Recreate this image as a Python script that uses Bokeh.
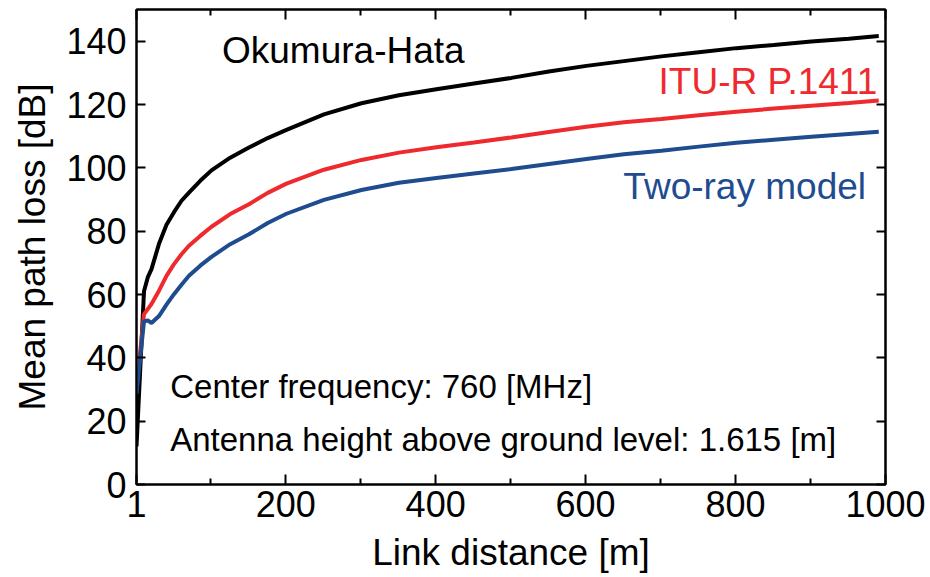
from bokeh.plotting import figure
from bokeh.models import Range1d, FixedTicker, LinearAxis, Label
from bokeh.embed import file_html
from bokeh.resources import INLINE

# ---- data ----
dist = [1, 11, 16, 21, 31, 41, 51, 61, 71, 86, 101, 126, 151, 176, 201, 251, 301, 351, 401,
        451, 501, 551, 601, 651, 701, 751, 801, 851, 901, 951, 991]
hata = [12, 61, 65.4, 68, 76, 82, 86, 89.6, 92.2, 95.9, 99.2, 103.2, 106.4, 109.4, 112, 116.9, 120.4, 122.9, 124.8,
        126.6, 128.4, 130.4, 132.2, 133.7, 135.2, 136.5, 137.8, 138.8, 139.9, 140.8, 141.6]
itu = [30.5, 53.8, 55.4, 57, 61.2, 65.9, 69.6, 72.7, 75.4, 78.5, 81.4, 85.4, 88.5, 92.1, 95, 99.4, 102.5, 104.8, 106.5,
       108.0, 109.6, 111.3, 113.0, 114.4, 115.4, 116.6, 117.7, 118.7, 119.6, 120.5, 121.3]
tworay = [28.6, 51.5, 51.8, 51.0, 53.2, 56.8, 60.1, 63.1, 65.9, 69.1, 71.9, 75.9, 79, 82.6, 85.5, 89.9, 93.0, 95.3, 96.8,
          98.2, 99.6, 101.2, 102.8, 104.3, 105.4, 106.7, 107.9, 108.9, 109.8, 110.7, 111.4]

x_major = [1, 200, 400, 600, 800, 1000]
x_minor = [100, 300, 500, 700, 900]
y_major = [0, 20, 40, 60, 80, 100, 120, 140]

FONT = "Liberation Sans"
BLACK = "#000000"
RED = "#EE2A2E"
BLUE = "#1F4C8F"

p = figure(width=930, height=577, x_range=Range1d(1, 1000), y_range=Range1d(0, 150),
           output_backend="svg", toolbar_location=None,
           min_border_left=136, min_border_right=45, min_border_top=9, min_border_bottom=93)
p.grid.visible = False
p.outline_line_color = "black"
p.outline_line_width = 2
p.background_fill_color = "white"
p.border_fill_color = "white"


def style(ax, labels=True):
    ax.axis_line_width = 2
    ax.major_tick_line_width = 2
    ax.minor_tick_line_width = 2
    ax.major_tick_in = 10
    ax.major_tick_out = 0
    ax.minor_tick_in = 6
    ax.minor_tick_out = 0
    ax.major_label_text_font = FONT
    ax.axis_label_text_font = FONT
    ax.axis_label_text_font_style = "normal"
    ax.axis_label_text_color = "black"
    if labels:
        ax.major_label_text_color = "black"
        ax.major_label_text_font_size = "36px"
        ax.axis_label_text_font_size = "37px"
    else:
        ax.major_label_text_color = None
        ax.major_label_text_font_size = "0px"
        ax.major_label_standoff = 0


xa = p.xaxis[0]
xa.ticker = FixedTicker(ticks=x_major, minor_ticks=x_minor)
style(xa)
xa.axis_label = "Link distance [m]"
xa.major_label_standoff = 6
xa.axis_label_standoff = 12

ya = p.yaxis[0]
ya.ticker = FixedTicker(ticks=y_major, minor_ticks=[])
style(ya)
ya.axis_label = "Mean path loss [dB]"
ya.major_label_standoff = 10
ya.axis_label_standoff = 10
ya.major_tick_in = 9

top = LinearAxis(ticker=FixedTicker(ticks=x_major, minor_ticks=x_minor))
style(top, labels=False)
p.add_layout(top, "above")

right = LinearAxis(ticker=FixedTicker(ticks=y_major, minor_ticks=[]))
style(right, labels=False)
right.major_tick_in = 9
p.add_layout(right, "right")

p.line(dist, hata, line_color=BLACK, line_width=4)
p.line(dist, itu, line_color=RED, line_width=4)
p.line(dist, tworay, line_color=BLUE, line_width=4)

labels = [
    ("Okumura-Hata", 115, 136.9, "left", BLACK, "37px"),
    ("ITU-R P.1411", 989, 127.3, "right", RED, "37px"),
    ("Two-ray model", 974, 94.2, "right", BLUE, "37px"),
    ("Center frequency: 760 [MHz]", 46, 31.0, "left", BLACK, "33px"),
    ("Antenna height above ground level: 1.615 [m]", 46, 14.1, "left", BLACK, "33px"),
]
for t, x, y, al, c, fs in labels:
    p.add_layout(Label(x=x, y=y, text=t, text_align=al, text_baseline="alphabetic",
                       text_color=c, text_font=FONT, text_font_size=fs))

open("out.html", "w").write(file_html(p, INLINE))
